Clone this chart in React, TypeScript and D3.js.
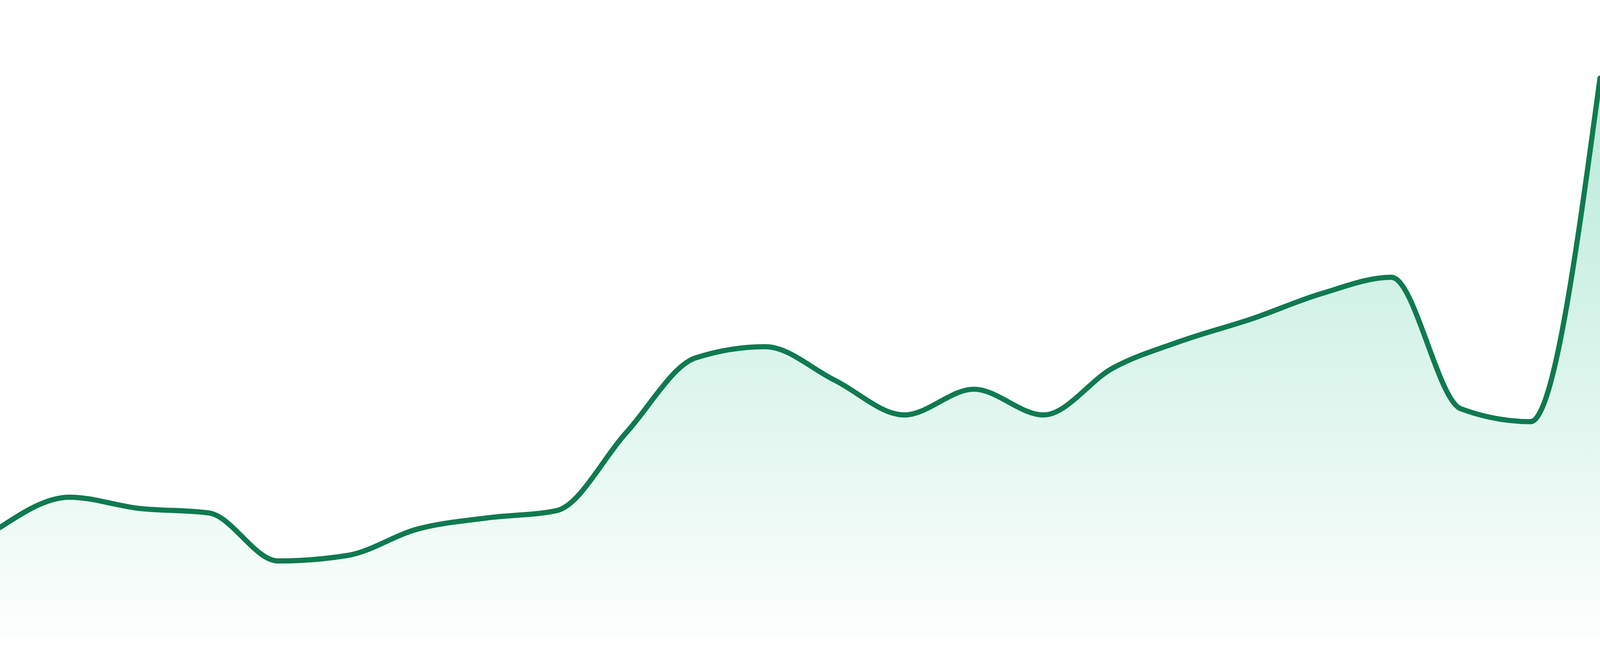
import React, { useEffect, useRef } from "react";
import * as d3 from "d3";

const categories: string[] = [
  "00:00", "01:00", "02:00", "03:00", "04:00", "05:00", "06:00", "07:00",
  "08:00", "09:00", "10:00", "11:00", "12:00", "13:00", "14:00", "15:00",
  "16:00", "17:00", "18:00", "19:00", "20:00", "21:00", "22:00", "23:00",
];

const values: number[] = [
  19.7, 25.1, 23.1, 22.3, 13.7, 14.7, 19.4, 21.4,
  22.7, 36.6, 50.0, 52.0, 46.0, 39.8, 44.4, 39.8,
  48.2, 53.1, 57.0, 61.5, 64.4, 40.9, 38.6, 100.0,
];

const yDomain: [number, number] = [0, 100];

export default function App() {
  const ref = useRef<SVGSVGElement | null>(null);

  useEffect(() => {
    document.body.style.margin = "0";
    document.body.style.overflow = "hidden";
    const W = window.innerWidth || 4800;
    const H = window.innerHeight || 1680;
    const TOP = (H * 200) / 1680;
    const BASE = (H * 1633) / 1680;
    const SW = (15.5 * W) / 4800;

    const svg = d3.select(ref.current).attr("width", W).attr("height", H);
    svg.selectAll("*").remove();

    const x = d3.scalePoint<string>().domain(categories).range([0, W]).padding(0);
    const y = d3.scaleLinear().domain(yDomain).range([BASE, TOP]);

    const data = categories.map((c, i) => ({ c, v: values[i] }));

    const defs = svg.append("defs");
    const grad = defs
      .append("linearGradient")
      .attr("id", "areaGrad")
      .attr("x1", 0)
      .attr("y1", 0)
      .attr("x2", 0)
      .attr("y2", 1);
    grad.append("stop").attr("offset", "0%").attr("stop-color", "#10b981").attr("stop-opacity", 0.3);
    grad.append("stop").attr("offset", "100%").attr("stop-color", "#10b981").attr("stop-opacity", 0.01);

    defs
      .append("clipPath")
      .attr("id", "clipAll")
      .append("rect")
      .attr("x", 0)
      .attr("y", 0)
      .attr("width", W)
      .attr("height", H);

    const g = svg.append("g").attr("clip-path", "url(#clipAll)");

    const area = d3
      .area<{ c: string; v: number }>()
      .x((d) => x(d.c) as number)
      .y0(y(0))
      .y1((d) => y(d.v))
      .curve(d3.curveMonotoneX);

    const line = d3
      .line<{ c: string; v: number }>()
      .x((d) => x(d.c) as number)
      .y((d) => y(d.v))
      .curve(d3.curveMonotoneX);

    g.append("path").datum(data).attr("d", area).attr("fill", "url(#areaGrad)");

    g.append("path")
      .datum(data)
      .attr("d", line)
      .attr("fill", "none")
      .attr("stroke", "#0f7a50")
      .attr("stroke-width", SW)
      .attr("stroke-linejoin", "round")
      .attr("stroke-linecap", "round");
  }, []);

  return (
    <svg
      ref={ref}
      width={4800}
      height={1680}
      style={{ position: "fixed", left: 0, top: 0, background: "#ffffff", display: "block" }}
    />
  );
}
